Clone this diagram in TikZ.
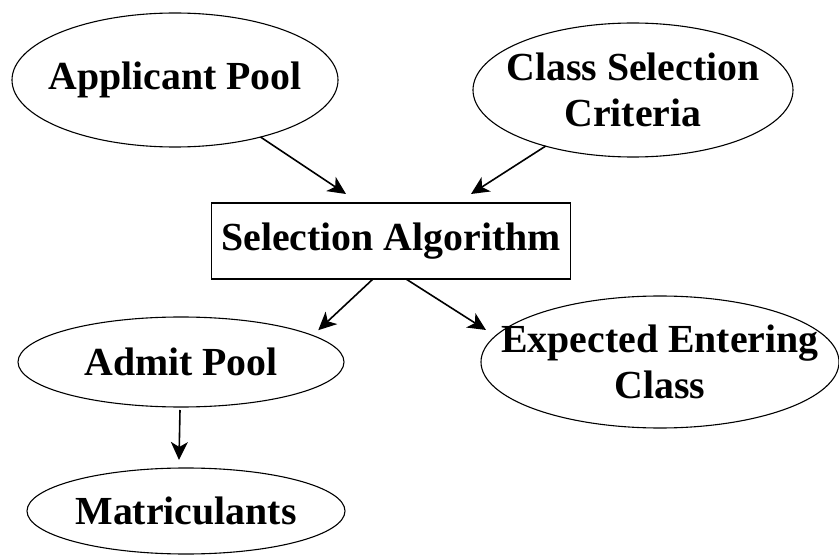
\documentclass[tikz,border=0pt]{standalone}
\usepackage{fontspec}
\setmainfont{Liberation Serif}
\usetikzlibrary{shapes.geometric,arrows.meta}
\tikzset{
  pool/.style={ellipse,draw,line width=1.1pt,inner xsep=-14pt,inner ysep=0pt,outer sep=0pt,align=center,
    font=\fontsize{39.8}{46}\selectfont\bfseries},
  algbox/.style={rectangle,draw,line width=1.1pt,inner sep=0pt,outer sep=0pt,
    font=\fontsize{39.8}{46}\selectfont\bfseries},
  flow/.style={-{Stealth[length=18pt,width=17pt,inset=5pt]},line width=1.6pt}
}
\begin{document}
\begin{tikzpicture}[x=1pt,y=1pt]
  \useasboundingbox (0,0) rectangle (839,558);
  \node(app)[pool,minimum width=326pt,minimum height=134pt] at (175,478){Applicant Pool};
  \node(crit)[pool,minimum width=320pt,minimum height=134pt] at (633,468){Class Selection\\Criteria};
  \node(sel)[algbox,minimum width=359pt,minimum height=76pt] at (391,317){Selection Algorithm};
  \node(adm)[pool,minimum width=326pt,minimum height=90pt] at (181,196){Admit Pool};
  \node(exp)[pool,inner xsep=-34pt,minimum width=358pt,minimum height=132pt] at (660,196){Expected Entering\\Class};
  \node(mat)[pool,minimum width=318pt,minimum height=86pt] at (186,47){Matriculants};
  \draw[flow] (app) -- ([xshift=-45pt,yshift=9pt]sel.north);
  \draw[flow] (crit) -- ([xshift=80pt,yshift=9pt]sel.north);
  \draw[flow] ([xshift=-18pt]sel.south) -- ([xshift=22pt]adm.north east);
  \draw[flow] ([xshift=15pt]sel.south) -- ([xshift=5pt,yshift=32pt]exp.west);
  \draw[flow] ([xshift=-1pt,yshift=-3pt]adm.south) -- ([xshift=-7pt,yshift=8pt]mat.north);
\end{tikzpicture}
\end{document}
